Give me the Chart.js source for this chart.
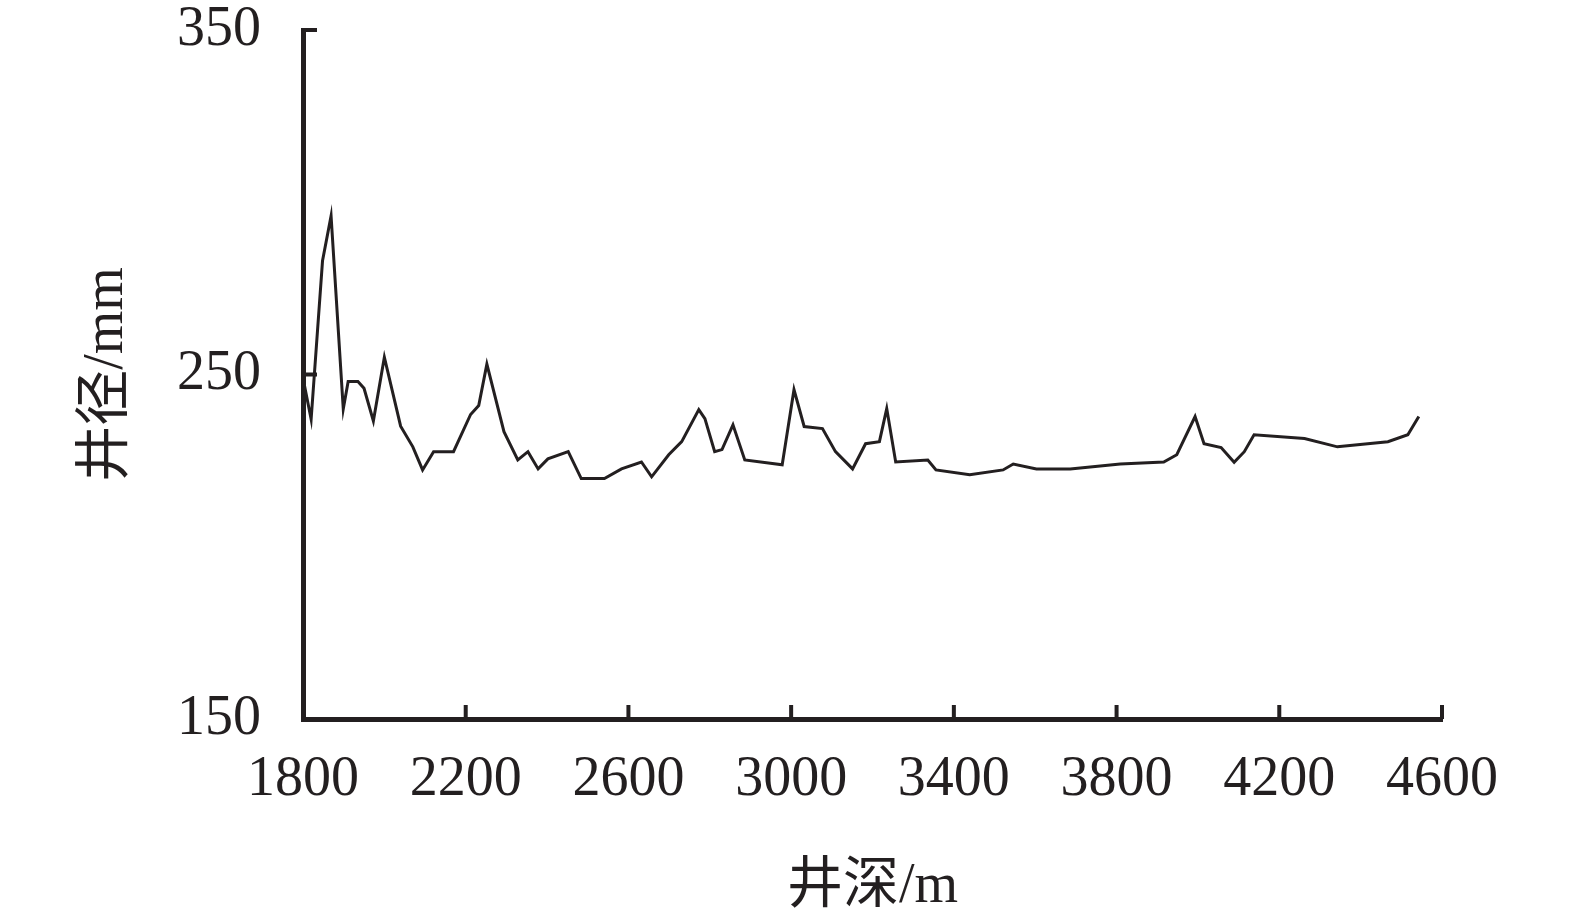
<!DOCTYPE html>
<html>
<head>
<meta charset="utf-8">
<script src="https://cdn.jsdelivr.net/npm/chart.js@4.4.1/dist/chart.umd.min.js"></script>
<style>
  html, body { margin: 0; padding: 0; background: #fff; }
  #wrap { width: 1575px; height: 923px; }
</style>
</head>
<body>
<div id="wrap"><canvas id="myChart" width="1575" height="923"></canvas></div>
<script>
// well depth (m) and hole diameter (mm)
const depths = [1800, 1820, 1848, 1869, 1899, 1911, 1935, 1950, 1973, 2000,
    2040, 2070, 2094, 2121, 2170, 2212, 2232, 2252, 2294, 2328,
    2353, 2378, 2402, 2452, 2484, 2541, 2583, 2632, 2657, 2699,
    2731, 2773, 2788, 2812, 2830, 2857, 2886, 2978, 3007, 3032,
    3077, 3109, 3151, 3183, 3217, 3235, 3257, 3336, 3356, 3439,
    3521, 3546, 3603, 3686, 3809, 3916, 3948, 3993, 4015, 4057,
    4089, 4114, 4138, 4262, 4343, 4467, 4516, 4543];
const diameters = [249, 237, 283, 296, 240, 248, 248, 246, 236.5, 255,
    235, 229, 222.3, 227.6, 227.6, 238.4, 241, 253, 233.4, 225.2,
    227.6, 222.6, 225.5, 227.6, 219.8, 219.8, 222.6, 224.6, 220.3, 226.7,
    230.5, 239.8, 237.2, 227.6, 228.2, 235.4, 225.2, 223.8, 245.6, 234.9,
    234.3, 227.6, 222.6, 229.9, 230.5, 240.1, 224.6, 225.2, 222.3, 220.9,
    222.3, 224, 222.6, 222.6, 224, 224.6, 226.7, 237.8, 229.9, 228.8,
    224.5, 227.6, 232.5, 231.4, 229, 230.5, 232.5, 237.8];

const xTicks = [1800, 2200, 2600, 3000, 3400, 3800, 4200, 4600];
const yTicks = [150, 250, 350];
const xTitle = '井深/m';
const yTitle = '井径/mm';

const ink = '#231f20';
const serif = '"Liberation Serif", "Noto Sans CJK SC", serif';

// ticks point into the plot, so draw them ourselves from the scales
const insideTicks = {
    id: 'insideTicks',
    afterDraw(chart) {
        const ctx = chart.ctx;
        const area = chart.chartArea;
        const xs = chart.scales.x;
        const ys = chart.scales.y;
        ctx.save();
        ctx.strokeStyle = ink;
        ctx.lineWidth = 4;
        ctx.beginPath();
        for (let v of xTicks) {
            const px = xs.getPixelForValue(v);
            ctx.moveTo(px, area.bottom);
            ctx.lineTo(px, area.bottom - 14);
        }
        for (let v of yTicks) {
            const py = ys.getPixelForValue(v);
            ctx.moveTo(area.left, py);
            ctx.lineTo(area.left + 14, py);
        }
        ctx.stroke();
        ctx.restore();
    }
};

const ctx = document.getElementById('myChart');

new Chart(ctx, {
    type: 'line',
    data: {
        datasets: [{
            data: depths.map((d, i) => ({ x: d, y: diameters[i] })),
            borderColor: ink,
            borderWidth: 3,
            pointRadius: 0,
            tension: 0,
            fill: false
        }]
    },
    options: {
        responsive: false,
        animation: false,
        events: [],
        layout: { padding: { top: 30, right: 133, bottom: 0, left: 0 } },
        plugins: { legend: { display: false }, tooltip: { enabled: false } },
        scales: {
            x: {
                type: 'linear',
                min: 1800,
                max: 4600,
                afterBuildTicks: (scale) => { scale.ticks = xTicks.map(v => ({ value: v })); },
                afterFit: (scale) => {
                    scale.height = 204;
                    scale.paddingLeft = 0;
                    scale.paddingRight = 0;
                },
                grid: { display: false, drawTicks: false },
                border: { display: true, color: ink, width: 5 },
                ticks: {
                    color: ink,
                    font: { family: serif, size: 56 },
                    padding: 28,
                    maxRotation: 0,
                    autoSkip: false,
                    callback: (v) => String(v)
                },
                title: {
                    display: true,
                    text: xTitle,
                    color: ink,
                    font: { family: serif, size: 56 },
                    padding: { top: 0, bottom: 2 }
                }
            },
            y: {
                min: 150,
                max: 350,
                afterBuildTicks: (scale) => { scale.ticks = yTicks.map(v => ({ value: v })); },
                afterFit: (scale) => {
                    scale.width = 303;
                    scale.paddingTop = 0;
                    scale.paddingBottom = 0;
                },
                grid: { display: false, drawTicks: false },
                border: { display: true, color: ink, width: 5 },
                ticks: {
                    color: ink,
                    font: { family: serif, size: 56 },
                    padding: 42,
                    callback: (v) => String(v)
                },
                title: {
                    display: true,
                    text: yTitle,
                    color: ink,
                    font: { family: serif, size: 56 },
                    padding: { top: 74, bottom: 0 }
                }
            }
        }
    },
    plugins: [insideTicks]
});
</script>
</body>
</html>
